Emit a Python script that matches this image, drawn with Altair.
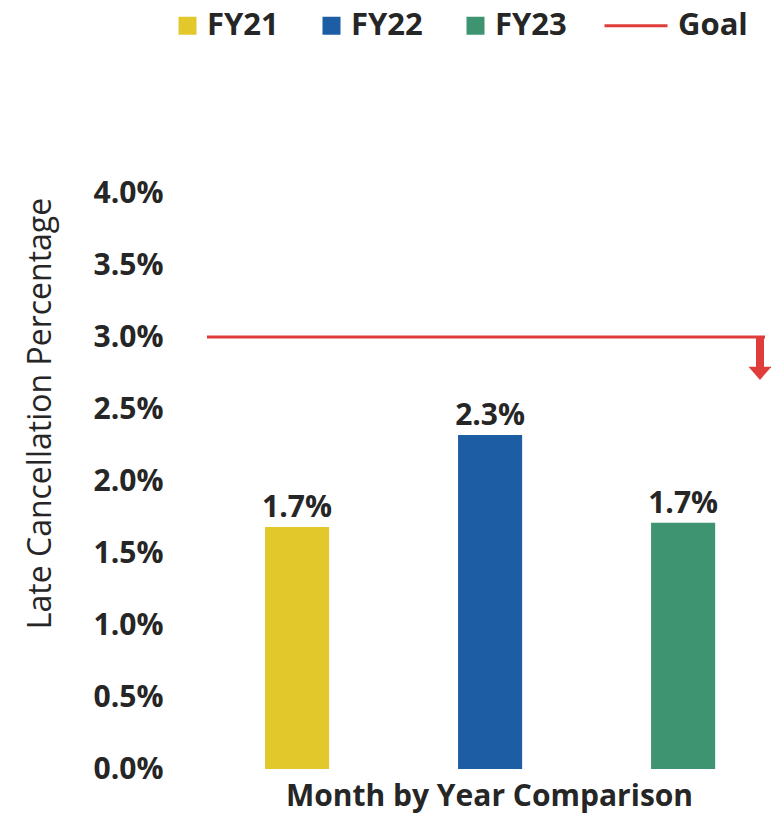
import altair as alt
import pandas as pd

# ---- data ----
years = ["FY21", "FY22", "FY23"]
values = [0.0168, 0.0232, 0.0171]
goal_value = 0.03
arrow_stem_end = 0.02785
arrow_head_pos = 0.0275
y_ticks = [0.0, 0.005, 0.01, 0.015, 0.02, 0.025, 0.03, 0.035, 0.04]
legend_items = ["FY21", "FY22", "FY23", "Goal"]
colors = ["#E2C82B", "#1C5DA3", "#3E9371", "#E03C3C"]

FONT = "Open Sans"
TXT = "#262626"
RED = "#E03C3C"

SQUARE = "M-1,-1H1V1H-1Z"
LINE = "M-6,-0.16H1V0.16H-6Z"
HEAD = "M-1,-0.55L1,-0.55L0,0.6Z"

bars_df = pd.DataFrame({"year": years, "value": values})
goal_df = pd.DataFrame({"value": [goal_value], "value2": [arrow_stem_end]})
head_df = pd.DataFrame({"value": [arrow_head_pos]})
legend_df = pd.DataFrame({"series": legend_items})

color_scale = alt.Scale(domain=legend_items, range=colors)
y_scale = alt.Scale(domain=[0, 0.04], nice=False, zero=True)

y_axis = alt.Axis(
    values=y_ticks, format=".1%", grid=False, ticks=False, domain=False,
    labelFont=FONT, labelFontSize=30, labelFontWeight="bold",
    labelColor=TXT, labelPadding=37,
    title="Late Cancellation Percentage",
    titleFont=FONT, titleFontSize=32, titleFontWeight="normal",
    titleColor=TXT, titleAngle=270, titleX=-150, titleY=220,
    titleAlign="center", titleBaseline="alphabetic",
)
x_axis = alt.Axis(
    labels=False, ticks=False, domain=False, grid=False,
    title="Month by Year Comparison",
    titleFont=FONT, titleFontSize=30, titleFontWeight="bold",
    titleColor=TXT, titleBaseline="alphabetic", titleY=36, titleX=289,
)
x_scale = alt.Scale(domain=years, paddingInner=0.668, paddingOuter=0.313, align=0.538)

def Y(field="value:Q"):
    return alt.Y(field, scale=y_scale, axis=y_axis)

def X():
    return alt.X("year:N", sort=years, scale=x_scale, axis=x_axis)

leg = dict(
    orient="none", legendX=-28, legendY=-183, direction="horizontal",
    title=None, labelFont=FONT, labelFontSize=31, labelFontWeight="bold",
    labelColor=TXT, symbolSize=324, labelOffset=4, columnPadding=37,
    padding=0, symbolOpacity=1, symbolStrokeWidth=0,
)

bars = alt.Chart(bars_df).mark_bar().encode(
    x=X(),
    y=Y(),
    color=alt.Color("year:N", scale=color_scale, legend=alt.Legend(**leg)),
)

labels = alt.Chart(bars_df).mark_text(
    font=FONT, fontSize=30, fontWeight="bold", color=TXT,
    baseline="alphabetic", dy=-10,
).encode(
    x=X(),
    y=Y(),
    text=alt.Text("value:Q", format=".1%"),
)

goal_line = alt.Chart(goal_df).mark_rule(color=RED, strokeWidth=3).encode(
    y=Y(),
    x=alt.value(7),
    x2=alt.value(565),
)

arrow_stem = alt.Chart(goal_df).mark_rule(color=RED, strokeWidth=8).encode(
    y=Y(),
    y2="value2:Q",
    x=alt.value(560),
)

arrow_head = alt.Chart(head_df).mark_point(
    shape=HEAD, size=529, filled=True, color=RED, opacity=1
).encode(
    y=Y(),
    x=alt.value(560),
)

legend_layer = alt.Chart(legend_df).mark_point(filled=True, opacity=0).encode(
    x=alt.value(-2000),
    y=alt.value(-2000),
    color=alt.Color("series:N", scale=color_scale, legend=alt.Legend(**leg)),
    shape=alt.Shape(
        "series:N",
        scale=alt.Scale(domain=legend_items, range=[SQUARE, SQUARE, SQUARE, LINE]),
        legend=alt.Legend(**leg),
    ),
)

chart = alt.layer(bars, labels, goal_line, arrow_stem, arrow_head, legend_layer).properties(
    width=571,
    height=576,
    autosize=alt.AutoSizeParams(type="none"),
    padding={"left": 192, "top": 185, "right": 0, "bottom": 44},
    background="white",
).configure_view(stroke=None)

chart.save("out.html", embed_options={"renderer": "svg", "actions": False})
